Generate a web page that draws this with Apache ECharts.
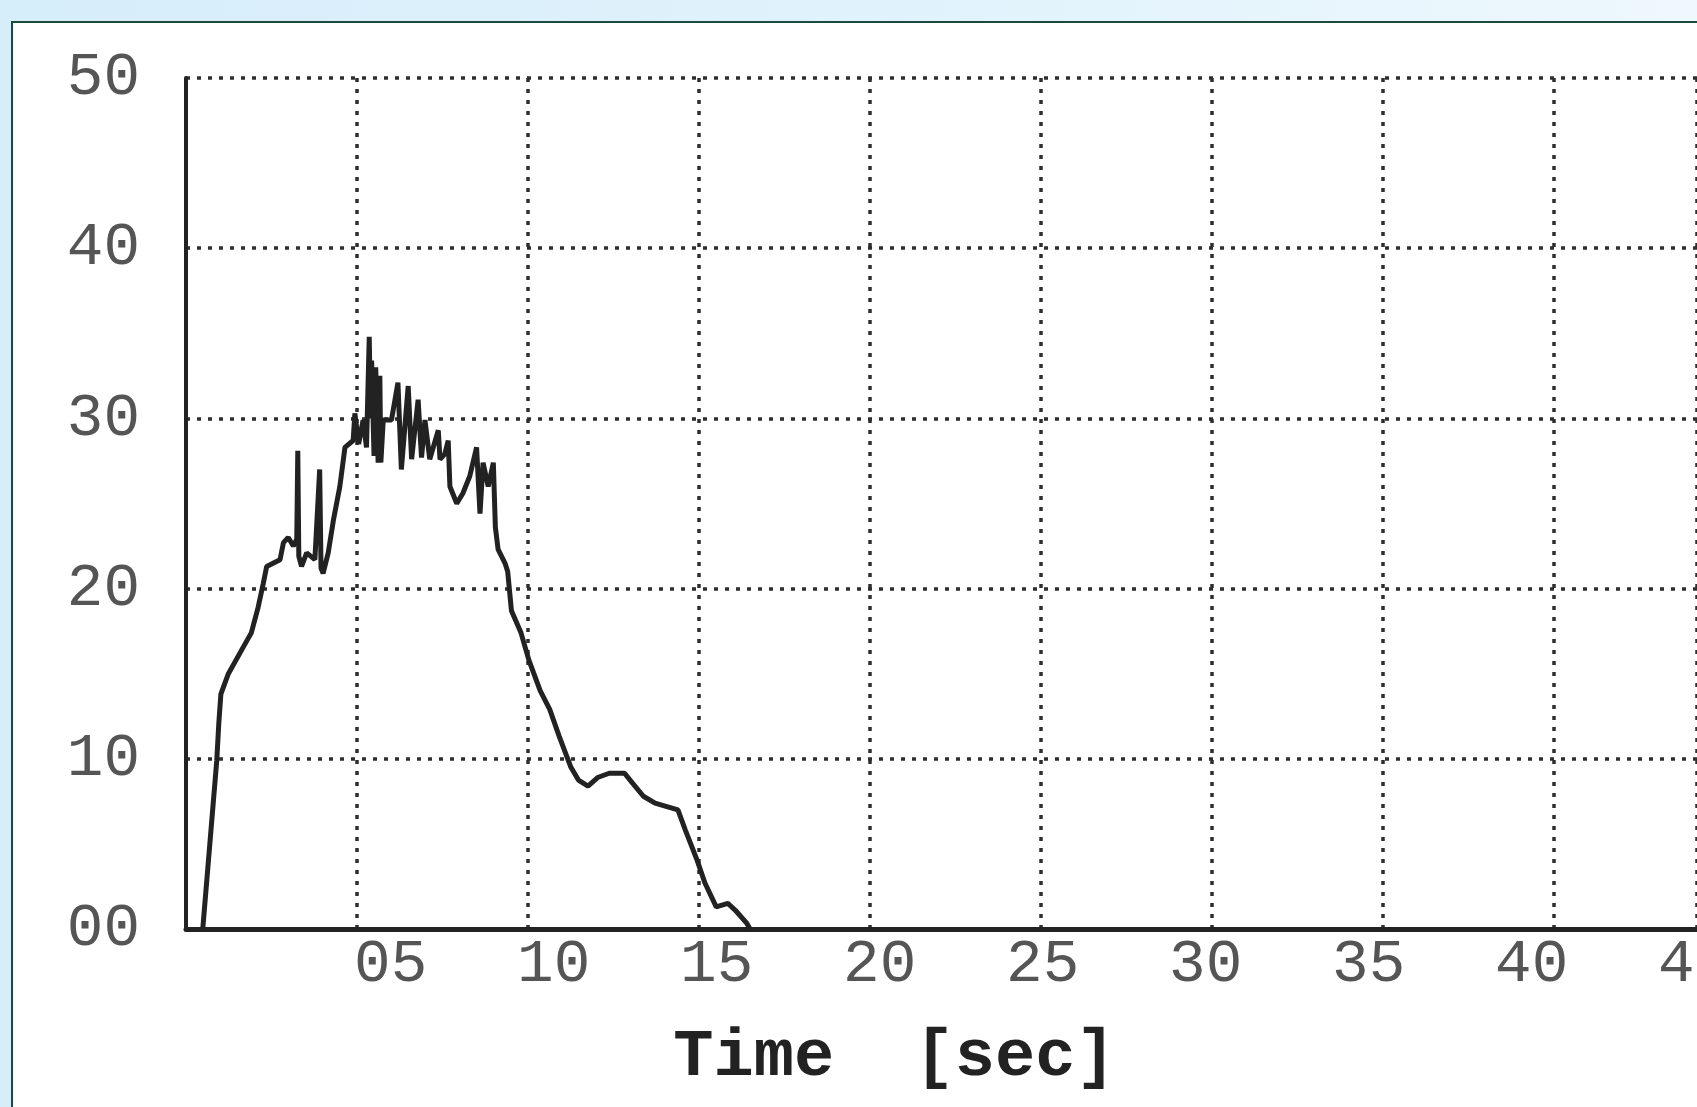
<!DOCTYPE html>
<html>
<head>
<meta charset="utf-8">
<script src="https://cdn.jsdelivr.net/npm/echarts@6/dist/echarts.min.js"></script>
<style>
  html, body { margin: 0; padding: 0; }
  body {
    width: 1697px; height: 1107px; overflow: hidden; position: relative;
    background: linear-gradient(90deg, #d6edfa 0%, #e2f3fc 60%, #eef8fd 100%);
  }
  #panel {
    position: absolute; left: 11px; top: 21px; right: 0; bottom: 0;
    background: #fff;
    border-left: 2px solid #1c4a3b;
    border-top: 2px solid #1c4a3b;
  }
  #chart { position: absolute; left: 0; top: 0; width: 1697px; height: 1107px; }
</style>
</head>
<body>
<div id="panel"></div>
<div id="chart"></div>
<script>
// readings taken off the scanned trace
var timeSec = [
  0.49, 0.90, 0.96, 1.02, 1.24, 1.63, 1.91, 2.11, 2.26, 2.36,
  2.75, 2.85, 2.99, 3.14, 3.24, 3.27, 3.30, 3.38, 3.53, 3.77,
  3.91, 3.95, 4.01, 4.16, 4.31, 4.50, 4.65, 4.89, 4.94, 5.05,
  5.18, 5.28, 5.36, 5.40, 5.43, 5.50, 5.55, 5.62, 5.67, 5.70,
  5.77, 6.01, 6.20, 6.30, 6.50, 6.60, 6.79, 6.89, 6.99, 7.13,
  7.38, 7.43, 7.57, 7.67, 7.72, 7.92, 8.10, 8.30, 8.50, 8.60,
  8.69, 8.84, 8.99, 9.05, 9.13, 9.33, 9.41, 9.52, 9.80, 10.03,
  10.36, 10.64, 10.92, 11.26, 11.48, 11.76, 12.04, 12.38, 12.83, 13.05,
  13.38, 13.72, 14.39, 14.61, 14.95, 15.18, 15.51, 15.85, 16.07, 16.40,
  16.50
];
var reading = [
  0, 9.9, 12.1, 13.8, 15.0, 16.4, 17.4, 18.9, 20.3, 21.3,
  21.7, 22.7, 23.0, 22.5, 22.9, 28.1, 21.9, 21.3, 22.1, 21.7,
  27.0, 21.2, 20.9, 22.1, 24.0, 26.0, 28.3, 28.7, 30.3, 28.5,
  29.9, 28.3, 34.8, 30.0, 33.4, 27.8, 33.0, 27.4, 32.5, 27.4,
  29.9, 29.9, 32.1, 27.0, 31.9, 27.6, 31.1, 27.7, 29.9, 27.6,
  29.3, 27.6, 27.9, 28.7, 26.0, 25.0, 25.6, 26.6, 28.3, 24.4,
  27.4, 26.0, 27.4, 23.6, 22.3, 21.5, 21.0, 18.7, 17.4, 15.8,
  14.0, 12.9, 11.3, 9.5, 8.75, 8.4, 8.9, 9.15, 9.15, 8.6,
  7.8, 7.4, 7.0, 5.8, 4.05, 2.7, 1.3, 1.5, 1.1, 0.35,
  0
];
var yTicks = [0, 10, 20, 30, 40, 50];
var xTickLabels = [5, 10, 15, 20, 25, 30, 35, 40, 45];

var pts = timeSec.map(function (t, i) { return [t, reading[i]]; });

function pad2(v) { return (v < 10 ? '0' : '') + v; }

var labelFont = {
  fontFamily: 'Liberation Mono',
  fontSize: 61,
  color: '#555'
};
var dotted = { type: [4, 7], width: 3.5, color: '#2e2e2e' };

var chart = echarts.init(document.getElementById('chart'), null, { renderer: 'canvas' });
chart.setOption({
  backgroundColor: 'transparent',
  animation: false,
  grid: { left: 186, top: 78, right: 0, bottom: 178, containLabel: false, outerBoundsMode: 'none' },
  xAxis: [
    {
      type: 'value', min: 0, max: 44.2, interval: 5,
      axisLine: { show: true, lineStyle: { color: '#222', width: 5 } },
      axisTick: { show: false },
      axisLabel: { show: false },
      splitLine: { show: true, lineStyle: dotted }
    },
    {
      // label axis: the printed numbers drift a little off the grid lines
      type: 'value', position: 'bottom', min: -1.28, max: 45.07,
      axisLine: { show: false },
      axisTick: { show: false },
      splitLine: { show: false },
      axisLabel: Object.assign({
        customValues: xTickLabels,
        margin: 5,
        formatter: function (v) { return pad2(v); }
      }, labelFont),
      name: 'Time  [sec]',
      nameLocation: 'middle',
      nameGap: 96,
      nameTextStyle: {
        fontFamily: 'Liberation Mono',
        fontWeight: 'bold',
        fontSize: 67,
        color: '#222',
        padding: [0, 94, 0, 0]
      }
    }
  ],
  yAxis: {
    type: 'value', min: 0, max: 50, interval: 10,
    axisLine: { show: true, lineStyle: { color: '#222', width: 4 } },
    axisTick: { show: false },
    axisLabel: Object.assign({
      margin: 46,
      formatter: function (v) { return pad2(v); }
    }, labelFont),
    splitLine: { show: true, lineStyle: dotted }
  },
  series: [{
    type: 'line',
    xAxisIndex: 0,
    yAxisIndex: 0,
    data: pts,
    showSymbol: false,
    lineStyle: { color: '#222', width: 5 }
  }]
});
</script>
</body>
</html>
